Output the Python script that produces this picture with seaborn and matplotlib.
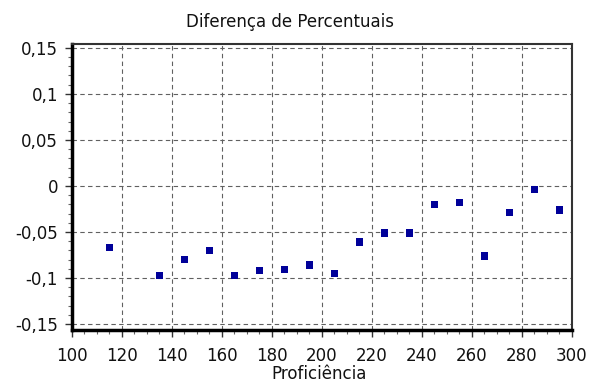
import matplotlib
matplotlib.use("Agg")
import matplotlib.pyplot as plt
import seaborn as sns
import pandas as pd
from matplotlib.ticker import MultipleLocator

proficiencia = [115, 135, 145, 155, 165, 175, 185, 195, 205, 215, 225, 235, 245, 255, 265, 275, 285, 295]
diferenca = [-0.067, -0.0975, -0.080, -0.070, -0.0975, -0.092, -0.091, -0.086, -0.095, -0.061,
             -0.051, -0.051, -0.020, -0.018, -0.076, -0.029, -0.004, -0.026]
x_ticks = [100, 120, 140, 160, 180, 200, 220, 240, 260, 280, 300]
y_ticks = [-0.15, -0.1, -0.05, 0, 0.05, 0.1, 0.15]
y_tick_labels = ["-0,15", "-0,1", "-0,05", "0", "0,05", "0,1", "0,15"]

df = pd.DataFrame({"Proficiência": proficiencia, "Diferença": diferenca})

sns.set_style("white")
plt.rcParams["font.family"] = ["DejaVu Sans"]

fig = plt.figure(figsize=(5.98, 3.85), dpi=100)
ax = fig.add_axes([0.1204, 0.1429, 0.836, 0.743])

sns.scatterplot(data=df, x="Proficiência", y="Diferença", marker="s", s=28,
                color="#000099", edgecolor="none", ax=ax, zorder=3)

ax.set_xlim(100, 300)
ax.set_ylim(-0.1565, 0.1543)
ax.set_xticks(x_ticks)
ax.set_xticklabels([str(v) for v in x_ticks])
ax.set_yticks(y_ticks)
ax.set_yticklabels(y_tick_labels)
ax.xaxis.set_minor_locator(MultipleLocator(5))
ax.yaxis.set_minor_locator(MultipleLocator(0.01))

ax.grid(True, which="major", linestyle=(0, (4, 3)), color="#606060", linewidth=0.8)
ax.tick_params(axis="both", which="major", direction="out", length=5, width=1,
               color="#333333", labelsize=12, labelcolor="#111111", pad=5,
               bottom=True, left=True)
ax.tick_params(axis="x", which="major", pad=7)
ax.tick_params(axis="both", which="minor", direction="out", length=3, width=0.8,
               color="#666666", bottom=True, left=True)

for side in ["left", "bottom"]:
    ax.spines[side].set_linewidth(2.5)
    ax.spines[side].set_color("#000000")
for side in ["top", "right"]:
    ax.spines[side].set_linewidth(1.5)
    ax.spines[side].set_color("#333333")

fig.text(290 / 598, 1 - 22 / 385, "Diferença de Percentuais", fontsize=12,
         color="#111111", ha="center", va="center")
fig.text(319 / 598, 1 - 374 / 385, "Proficiência", fontsize=12,
         color="#111111", ha="center", va="center")
ax.set_xlabel("")
ax.set_ylabel("")

fig.savefig("out.png", dpi=100)
